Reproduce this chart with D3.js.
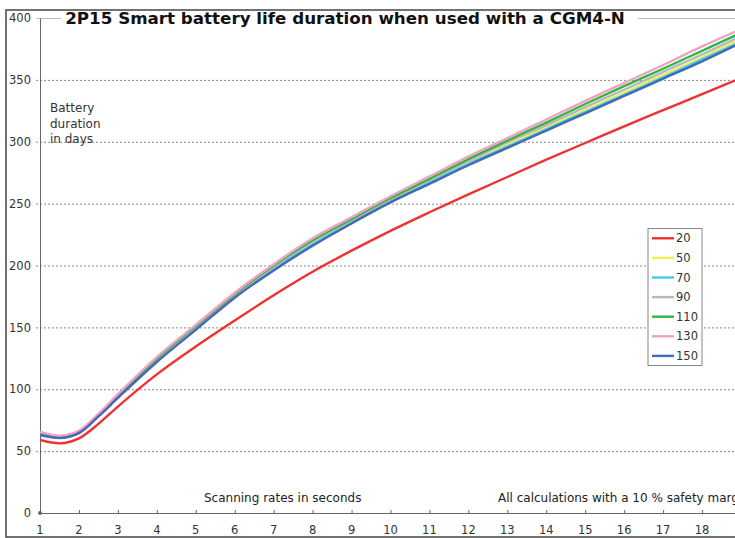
<!DOCTYPE html>
<html>
<head>
<meta charset="utf-8">
<script src="https://cdn.jsdelivr.net/npm/d3@7"></script>
<style>
  body { margin: 0; background: #fff; }
  svg { display: block; font-family: "DejaVu Sans", Verdana, sans-serif; }
</style>
</head>
<body>
<svg id="chart" width="735" height="538"></svg>
<script>
// scanning rate in seconds
var xValues = [1, 1.5, 2, 2.5, 3, 4, 5, 6, 7, 8, 9, 10, 11, 12, 13, 14, 15, 16, 17, 18, 19];

// battery duration in days, one array per series
var s20  = [59, 56.3, 60.3, 72, 86, 112, 134.5, 155.5, 176, 195, 212, 228, 243, 257.5, 271.5, 285.5, 299, 312.5, 325.5, 338.5, 351.5];
var s50  = [64, 61, 65, 78.5, 94, 123.5, 149, 175, 198, 218, 235.5, 252.5, 268, 283, 297.5, 311.5, 325.5, 339.5, 354, 368, 383];
var s70  = [63.5, 61, 65, 78.5, 93.5, 123, 148.5, 174.5, 197, 217, 234.5, 251.5, 267, 282, 296, 310, 324, 338, 352, 366.5, 381];
var s90  = [64.5, 61.5, 65.5, 79, 94.5, 124.5, 150, 176, 199, 219.5, 236.5, 253.5, 269, 284.5, 299.5, 313.5, 328, 342, 356.5, 370.5, 385.5];
var s110 = [65, 62, 66, 79.5, 95, 125, 151, 177, 200, 220.5, 237.5, 254.5, 270, 286, 301, 315.5, 330.5, 345, 359, 373.5, 388];
var s130 = [65.5, 62.5, 66.5, 80, 96, 126, 152, 178, 201, 222, 239, 256, 272, 288, 303, 318, 333, 347.5, 362, 377, 391];
var s150 = [63, 60.5, 64.5, 78, 93, 122, 148, 174, 196, 216, 234, 251, 266, 281, 295, 309, 323, 337, 351, 365, 380];

var seriesNames = ["20", "50", "70", "90", "110", "130", "150"];
var seriesValues = [s20, s50, s70, s90, s110, s130, s150];
var seriesColors = ["#ee3232", "#eeee55", "#44c8f0", "#b8b8b8", "#33b444", "#f0a2c4", "#4668b8"];

var xTicks = d3.range(1, 19);
var yTicks = [0, 50, 100, 150, 200, 250, 300, 350, 400];

var svg = d3.select("#chart");

var xScale = d3.scaleLinear().domain([1, 19]).range([40, 741]),
    yScale = d3.scaleLinear().domain([0, 400]).range([513, 18]);

// outer frame
svg.append("rect")
    .attr("x", 6).attr("y", 10)
    .attr("width", 760).attr("height", 527)
    .attr("fill", "none")
    .attr("stroke", "#444")
    .attr("stroke-width", 1.5);

// gridlines
var grid = svg.append("g")
    .attr("transform", "translate(36,0)")
    .call(d3.axisLeft(yScale).tickValues(yTicks.slice(1)).tickSize(-700).tickFormat(""));
grid.select(".domain").remove();
grid.selectAll("line")
    .attr("stroke", function (d) { return d === 400 ? "#bbb" : "#888"; })
    .attr("stroke-dasharray", function (d) { return d === 400 ? null : "2,2"; });

// y axis
var yAxisG = svg.append("g")
    .attr("transform", "translate(40,0)")
    .call(d3.axisLeft(yScale).tickValues(yTicks).tickSize(0).tickPadding(9));
yAxisG.select(".domain").attr("stroke", "#666");
yAxisG.selectAll("text")
    .attr("fill", "#333")
    .style("font-size", "11.5px")
    .style("font-family", "DejaVu Sans, sans-serif");

// x axis
var xAxisG = svg.append("g")
    .attr("transform", "translate(0," + yScale(0) + ")")
    .call(d3.axisTop(xScale).tickValues(xTicks).tickSize(3).tickFormat(""));
xAxisG.select(".domain").attr("stroke", "#666");
xAxisG.selectAll("line").attr("stroke", "#666");

svg.append("g")
    .selectAll("text")
    .data(xTicks)
    .enter().append("text")
    .attr("x", function (d) { return xScale(d); })
    .attr("y", 534)
    .attr("text-anchor", "middle")
    .attr("fill", "#333")
    .style("font-size", "11.5px")
    .text(function (d) { return d; });

svg.append("circle")
    .attr("cx", 40).attr("cy", yScale(0)).attr("r", 2)
    .attr("fill", "#666");

// title with white background over the top line
var titleBg = svg.append("rect").attr("fill", "#fff");
var title = svg.append("text")
    .attr("x", 345)
    .attr("y", 24)
    .attr("text-anchor", "middle")
    .attr("fill", "#111")
    .style("font-weight", "bold")
    .style("font-size", "17px")
    .text("2P15 Smart battery life duration when used with a CGM4-N");
var tw = title.node().getComputedTextLength();
title.style("font-size", (17 * 560 / tw) + "px");
titleBg.attr("x", 61).attr("y", 12).attr("width", 577).attr("height", 14);

// lines
var line = d3.line()
    .x(function (d, i) { return xScale(xValues[i]); })
    .y(function (d) { return yScale(d); })
    .curve(d3.curveMonotoneX);

svg.append("defs").append("clipPath").attr("id", "plotclip")
    .append("rect").attr("x", 40).attr("y", 0).attr("width", 700).attr("height", 513);

svg.append("g")
    .attr("clip-path", "url(#plotclip)")
    .selectAll("path")
    .data(seriesValues)
    .enter().append("path")
    .attr("d", line)
    .attr("fill", "none")
    .attr("stroke", function (d, i) { return seriesColors[i]; })
    .attr("stroke-width", 2.4);

// annotations
var yLabel = svg.append("text")
    .attr("fill", "#333")
    .style("font-size", "12px");
["Battery", "duration", "in days"].forEach(function (t, i) {
    yLabel.append("tspan").attr("x", 50).attr("y", 112 + i * 15.5).text(t);
});

svg.append("text")
    .attr("x", 204).attr("y", 502)
    .attr("fill", "#222")
    .style("font-size", "12px")
    .text("Scanning rates in seconds");

// runs past the right edge, as in the original
svg.append("text")
    .attr("x", 498).attr("y", 502)
    .attr("fill", "#222")
    .style("font-size", "12px")
    .text("All calculations with a 10 % safety margin");

// legend
var legend = svg.append("g");
legend.append("rect")
    .attr("x", 648).attr("y", 228.5)
    .attr("width", 54).attr("height", 137)
    .attr("fill", "#fff")
    .attr("stroke", "#888");

var item = legend.selectAll(".item")
    .data(seriesNames)
    .enter().append("g")
    .attr("class", "item")
    .attr("transform", function (d, i) { return "translate(0," + (238.3 + i * 19.6) + ")"; });

item.append("line")
    .attr("x1", 652).attr("x2", 674)
    .attr("stroke", function (d, i) { return seriesColors[i]; })
    .attr("stroke-width", 2.4);

item.append("text")
    .attr("x", 676)
    .attr("dy", "0.36em")
    .attr("fill", "#333")
    .style("font-size", "11.5px")
    .text(function (d) { return d; });
</script>
</body>
</html>
